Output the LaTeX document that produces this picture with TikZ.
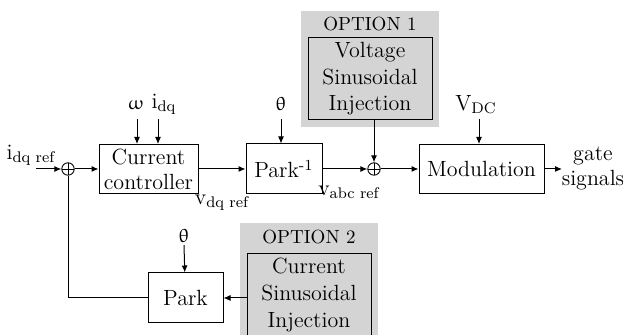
\documentclass[tikz,border=0pt]{standalone}
\usepackage{upgreek}
\usetikzlibrary{arrows.meta}
\tikzset{
  blk/.style={draw, line width=0.5pt, align=center, inner sep=0pt, font=\fontsize{11}{12.5}\selectfont},
  optblk/.style={blk, fill=black!17, font=\fontsize{11}{13.3}\selectfont, minimum width=62pt, minimum height=41pt},
  optbg/.style={fill=black!17, draw=none, inner sep=0pt, minimum width=69pt, minimum height=58pt},
  optlbl/.style={inner sep=0pt, font=\fontsize{9.5}{11}\selectfont},
  arr/.style={-{Latex[length=3.5pt,width=3pt]}, line width=0.5pt},
  lbl/.style={inner sep=0pt, font=\fontsize{11}{12.5}\selectfont, align=center},
  grk/.style={inner sep=0pt, font=\fontsize{9.5}{11}\selectfont},
  sumc/.style={circle, draw, minimum size=6.2pt, inner sep=0pt, line width=0.45pt,
    path picture={\draw[line width=0.4pt] (path picture bounding box.north) -- (path picture bounding box.south)
      (path picture bounding box.west) -- (path picture bounding box.east);}}
}
\begin{document}
\begin{tikzpicture}[x=0.5pt,y=-0.5pt]
\clip (0,0) rectangle (623,335);
% option backgrounds
\node[optbg] (opt1) at (370,69) {};
\node[optlbl] (opt1t) at (370,24) {OPTION 1};
\node[optblk] (vsi) at (370,79) {Voltage\\Sinusoidal\\Injection};
\node[optbg] (opt2) at (309,281) {};
\node[optlbl] (opt2t) at (309,237) {OPTION 2};
\node[optblk] (csi) at (309,295) {Current\\Sinusoidal\\Injection};
% main blocks
\node[blk, minimum width=49.5pt, minimum height=24.5pt] (cc) at (148.5,169) {Current\\controller};
\node[blk, minimum width=38pt, minimum height=25pt] (ipark) at (284,169) {Park\textsuperscript{-1}};
\node[blk, minimum width=62.5pt, minimum height=24.5pt] (mod) at (481.5,169) {Modulation};
\node[blk, minimum width=37.5pt, minimum height=25pt] (park) at (185.5,298) {Park};
\node[sumc] (s1) at (68,169) {};
\node[sumc] (s2) at (374,169) {};
% labels
\node[lbl] (iref) at (31,155) {i\textsubscript{dq ref}};
\coordinate (iin) at (36,169);
\node[grk] (om) at (136,105) {$\upomega$};
\node[lbl] (idq) at (164,104) {i\textsubscript{dq}};
\coordinate (omtop) at (137,119);
\coordinate (idqtop) at (158,119);
\node[grk] (th1) at (281,104) {$\uptheta$};
\coordinate (th1top) at (281,119);
\node[lbl] (vdc) at (476,105) {V\textsubscript{DC}};
\coordinate (vdctop) at (479,119);
\node[grk] (th2) at (184,236) {$\uptheta$};
\coordinate (th2top) at (184,245);
\node[lbl] (vdq) at (222,203) {v\textsubscript{dq ref}};
\node[lbl] (vabc) at (349,192) {v\textsubscript{abc ref}};
\node[lbl] (gate) at (593,168) {gate\\signals};
\coordinate (gin) at (562,169);
% connectors
\draw[arr] (iin) -- (s1);
\draw[arr] (s1) -- (s1 -| cc.west);
\draw[arr] (omtop) -- (omtop |- cc.north);
\draw[arr] (idqtop) -- (idqtop |- cc.north);
\draw[arr] (cc) -- (ipark);
\draw[arr] (th1top) -- (th1top |- ipark.north);
\draw[arr] (ipark) -- (s2);
\draw[arr] (s2 |- vsi.south) -- (s2);
\draw[arr] (s2) -- (s2 -| mod.west);
\draw[arr] (vdctop) -- (vdctop |- mod.north);
\draw[arr] (mod.east |- gin) -- (gin);
\draw[arr] (th2top) -- (park);
\draw[arr] (csi.west |- park) -- (park);
\draw[line width=0.5pt] (park.west) -| (s1);
\end{tikzpicture}
\end{document}
